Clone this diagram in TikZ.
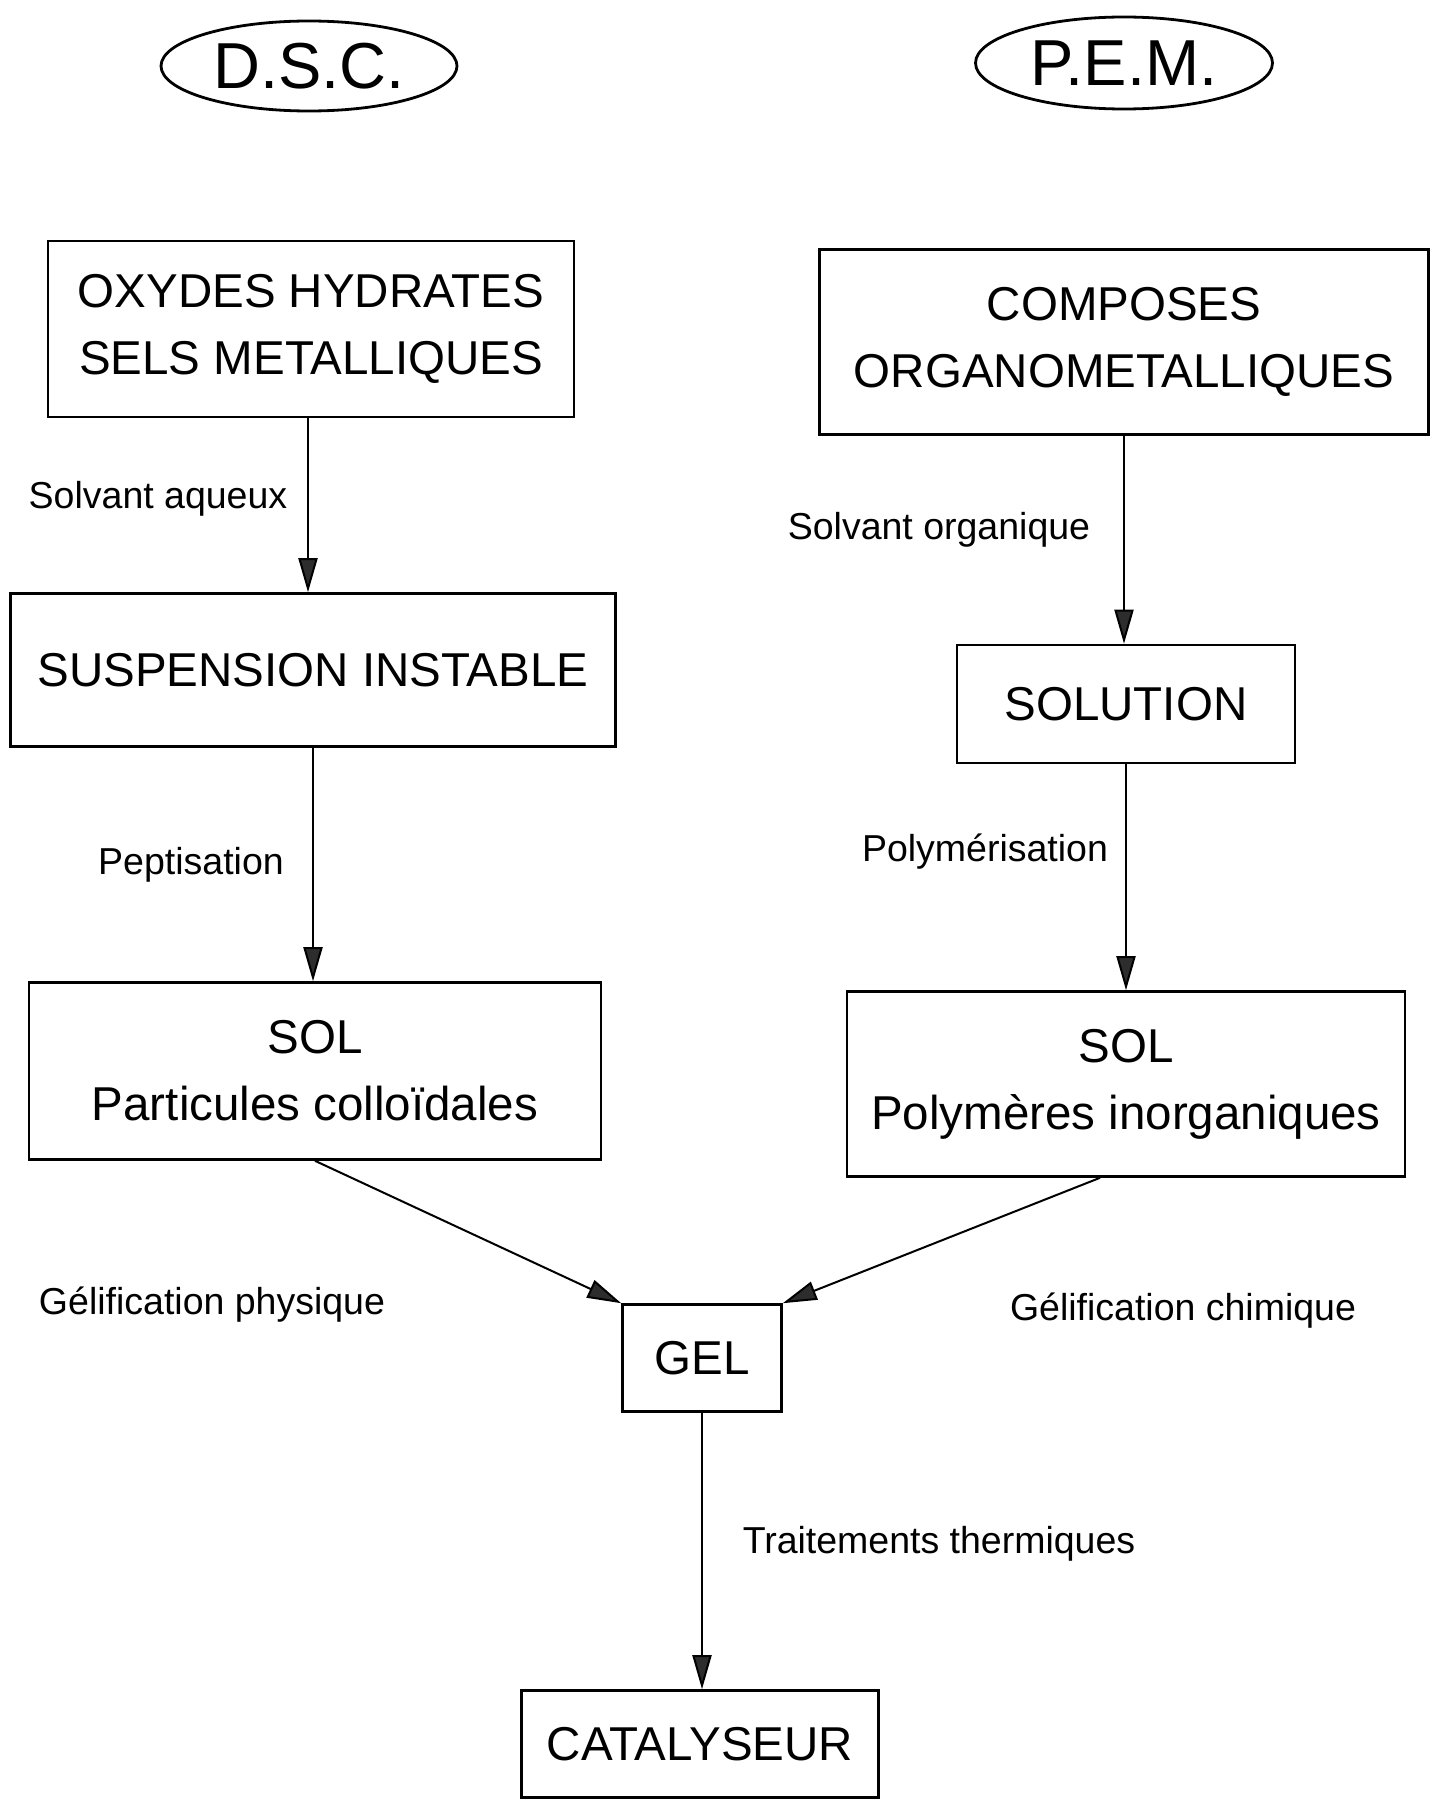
\documentclass[tikz,border=0pt]{standalone}
\usepackage{fontspec}
\setmainfont{Liberation Sans}
\usetikzlibrary{arrows.meta,shapes.geometric}

\begin{document}
\begin{tikzpicture}[x=1pt,y=-1pt,
  routeBox/.style={draw,line width=2.6pt,align=center,inner sep=0pt,
    font=\fontsize{47.5}{67}\selectfont},
  routeOval/.style={draw,ellipse,line width=2.8pt,inner sep=0pt,
    font=\fontsize{65}{70}\selectfont},
  stepLabel/.style={font=\fontsize{37.5}{40}\selectfont},
  flow/.style={line width=2pt,
    -{Triangle[length=34pt,width=19pt,fill=gray!35!black,line width=2pt]}}]
\definecolor{scanPaper}{HTML}{FFFFFF}
\fill[scanPaper] (0,0) rectangle (1432,1806);
\useasboundingbox (0,0) rectangle (1432,1806);
% the two routes
\node[routeOval,minimum width=296pt,minimum height=90pt] (dsc) at (309,66) {D.S.C.};
\node[routeOval,minimum width=297pt,minimum height=92pt] (pem) at (1124,63) {P.E.M.};
% left column: colloidal route
\node[routeBox,minimum width=526pt,minimum height=176pt] (oxydes) at (311,329)
  {OXYDES HYDRATES\\SELS METALLIQUES};
\node[routeBox,minimum width=605pt,minimum height=153pt] (suspension) at (313,670)
  {SUSPENSION INSTABLE};
\node[routeBox,minimum width=572pt,minimum height=177pt] (solColl) at (315,1071)
  {SOL\\Particules colloïdales};
% right column: polymeric route
\node[routeBox,minimum width=609pt,minimum height=185pt] (composes) at (1124,342)
  {COMPOSES\\ORGANOMETALLIQUES};
\node[routeBox,minimum width=338pt,minimum height=118pt] (solution) at (1126,704)
  {SOLUTION};
\node[routeBox,minimum width=558pt,minimum height=185pt] (solPoly) at (1126,1084)
  {SOL\\Polymères inorganiques};
% common end
\node[routeBox,minimum width=159pt,minimum height=107pt] (gel) at (702,1358) {GEL};
\node[routeBox,minimum width=357pt,minimum height=107pt] (catalyseur) at (700,1744)
  {CATALYSEUR};

\draw[flow] ([xshift=-3pt]oxydes.south) -- ([xshift=-3pt]oxydes.south |- suspension.north);
\draw[flow] (suspension.south) -- (suspension.south |- solColl.north);
\draw[flow] (composes.south) -- (composes.south |- solution.north);
\draw[flow] (solution.south) -- (solution.south |- solPoly.north);
\draw[flow] (solColl.south) -- (gel.north west);
\draw[flow] ([xshift=-26pt]solPoly.south) -- (gel.north east);
\draw[flow] (gel.south) -- (gel.south |- catalyseur.north);

\node[stepLabel] (lblAqueux) at (158,499) {Solvant aqueux};
\node[stepLabel] (lblOrga) at (939,530) {Solvant organique};
\node[stepLabel] (lblPept) at (191,865) {Peptisation};
\node[stepLabel] (lblPoly) at (985,852) {Polymérisation};
\node[stepLabel] (lblPhys) at (212,1305) {Gélification physique};
\node[stepLabel] (lblChim) at (1183,1311) {Gélification chimique};
\node[stepLabel] (lblTherm) at (939,1544) {Traitements thermiques};
\end{tikzpicture}
\end{document}
